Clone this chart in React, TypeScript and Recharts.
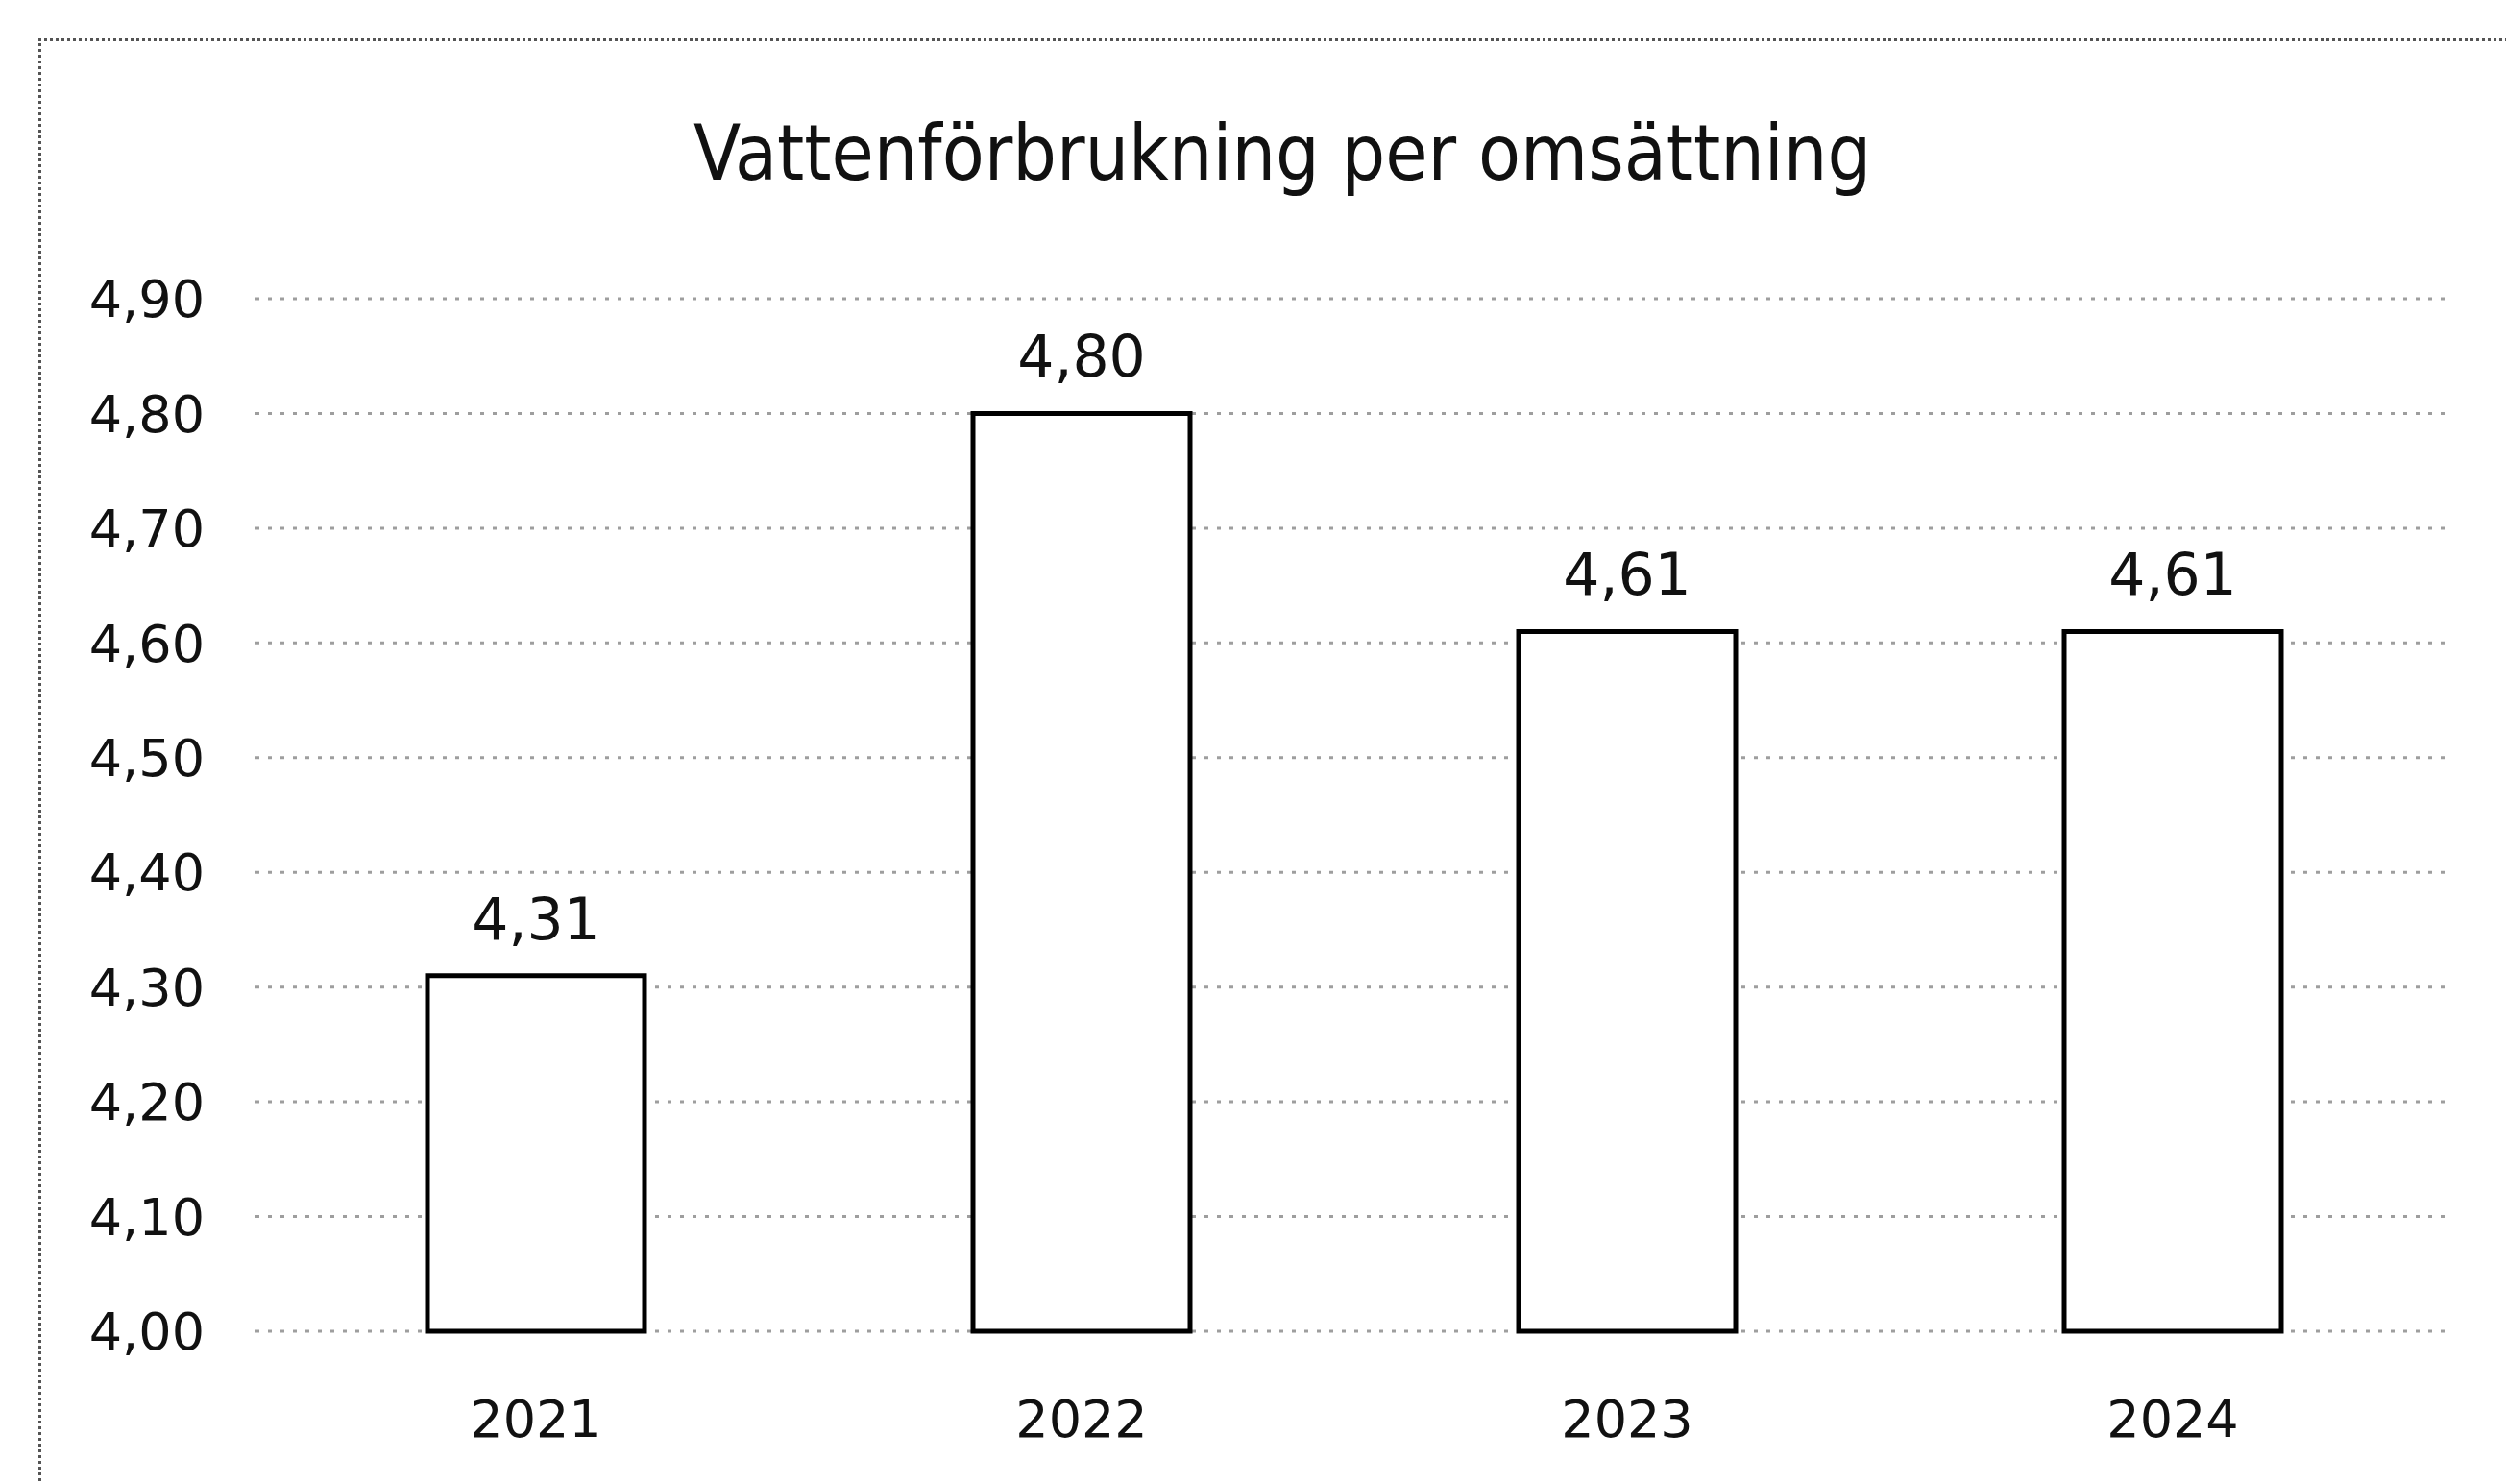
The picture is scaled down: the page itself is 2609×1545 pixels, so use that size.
import { Bar, BarChart, CartesianGrid, LabelList, XAxis, YAxis } from 'recharts';

const years = ['2021', '2022', '2023', '2024'];
const waterPerRevenue = [4.31, 4.8, 4.61, 4.61];
const yTicks = [4.0, 4.1, 4.2, 4.3, 4.4, 4.5, 4.6, 4.7, 4.8, 4.9];

const chartData = years.map((year, i) => ({ year, value: waterPerRevenue[i] }));

const FONT = '"DejaVu Sans", Verdana, sans-serif';
const fmt = (v: number) => v.toFixed(2).replace('.', ',');

export default function App() {
  return (
    <div
      style={{
        position: 'absolute',
        left: 0,
        top: 0,
        width: 2609,
        height: 1545,
        background: '#fff',
        overflow: 'hidden',
      }}
    >
      <div
        style={{
          position: 'absolute',
          left: 40,
          top: 40,
          width: 2700,
          height: 1600,
          borderTop: '3px dotted #555',
          borderLeft: '3px dotted #555',
        }}
      />
      <div
        style={{
          position: 'absolute',
          left: 1335,
          top: 120,
          transform: 'translateX(-50%)',
          whiteSpace: 'nowrap',
          fontFamily: '"DejaVu Sans Condensed", "Liberation Sans Narrow", "DejaVu Sans", sans-serif',
          fontStretch: 'condensed',
          fontSize: 80,
          lineHeight: 1,
          color: '#111',
        }}
      >
        Vattenförbrukning per omsättning
      </div>
      <BarChart
        width={2609}
        height={1545}
        data={chartData}
        margin={{ top: 311, right: 63, bottom: 0, left: 0 }}
        style={{ position: 'absolute', left: 0, top: 0 }}
      >
        <CartesianGrid vertical={false} stroke="#9e9e9e" strokeWidth={3} strokeDasharray="4 9" />
        <XAxis
          dataKey="year"
          height={159}
          padding={{ left: 8, right: 0 }}
          axisLine={false}
          tickLine={false}
          tickMargin={66}
          tick={{ fontSize: 54, fontFamily: FONT, fill: '#111' }}
        />
        <YAxis
          width={266}
          domain={[4, 4.9]}
          ticks={yTicks}
          axisLine={false}
          tickLine={false}
          tickMargin={47}
          tickFormatter={fmt}
          tick={{ fontSize: 54, fontFamily: FONT, fill: '#111' }}
        />
        <Bar
          dataKey="value"
          fill="#ffffff"
          stroke="#000"
          strokeWidth={5}
          barSize={226}
          isAnimationActive={false}
        >
          <LabelList
            dataKey="value"
            position="top"
            offset={38}
            formatter={(v: number) => fmt(v)}
            style={{ fontSize: 60, fontFamily: FONT, fill: '#111' }}
          />
        </Bar>
      </BarChart>
    </div>
  );
}
